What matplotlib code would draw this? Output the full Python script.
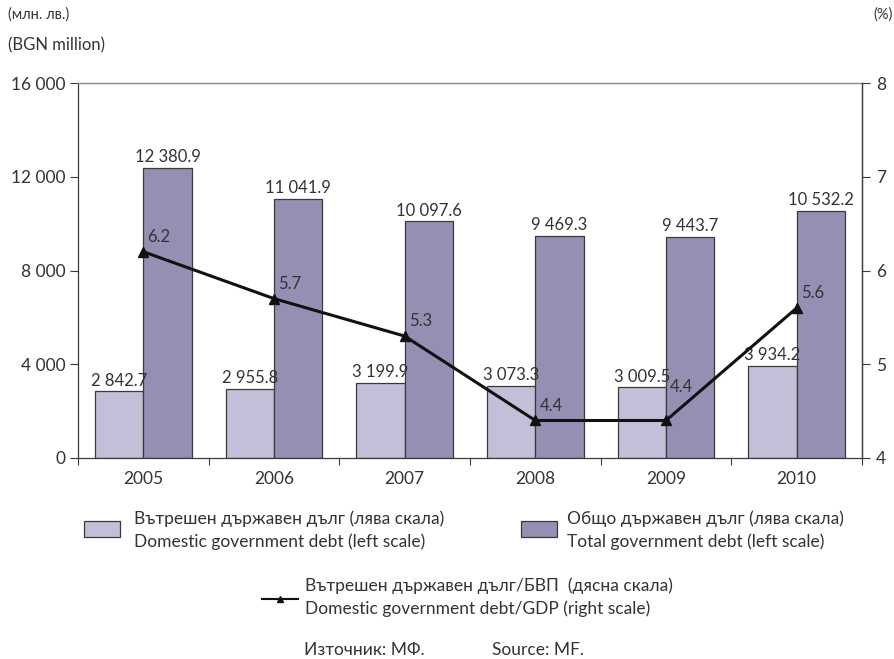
import matplotlib
matplotlib.use("Agg")
import matplotlib.pyplot as plt
from matplotlib.patches import Rectangle
from matplotlib.lines import Line2D
import numpy as np

plt.rcParams['font.family'] = ['Lato', 'DejaVu Sans']
plt.rcParams['font.weight'] = 'normal'

years = ["2005", "2006", "2007", "2008", "2009", "2010"]
domestic_debt = [2842.7, 2955.8, 3199.9, 3073.3, 3009.5, 3934.2]
total_debt = [12380.9, 11041.9, 10097.6, 9469.3, 9443.7, 10532.2]
debt_to_gdp = [6.2, 5.7, 5.3, 4.4, 4.4, 5.6]
left_ticks = [0, 4000, 8000, 12000, 16000]
left_tick_labels = ["0", "4 000", "8 000", "12 000", "16 000"]
right_ticks = [4, 5, 6, 7, 8]

light_col = "#c3bfd8"
dark_col = "#948fb3"
edge_col = "#3a3a3a"
text_col = "#333333"
fs = 12.5

def fmt(v):
    s = f"{v:,.1f}"
    return s.replace(",", " ")

fig = plt.figure(figsize=(8.94, 6.59), dpi=100)
ax = fig.add_axes([78/894, 1 - 458/659, (862-78)/894, (458-83)/659])

x = np.arange(len(years))
w = 0.37
ax.bar(x - w/2, domestic_debt, w, color=light_col, edgecolor=edge_col, linewidth=0.9, zorder=2)
ax.bar(x + w/2, total_debt, w, color=dark_col, edgecolor=edge_col, linewidth=0.9, zorder=2)

for xi, v in zip(x, domestic_debt):
    ax.text(xi - w/2, v + 120, fmt(v), ha="center", va="bottom", fontsize=12, color=text_col, zorder=5)
for xi, v in zip(x, total_debt):
    ax.text(xi + w/2, v + 120, fmt(v), ha="center", va="bottom", fontsize=12, color=text_col, zorder=5)

ax.set_xlim(-0.5, len(years) - 0.5)
ax.set_ylim(0, 16000)
ax.set_yticks(left_ticks)
ax.set_yticklabels(left_tick_labels)
ax.set_xticks(x)
ax.set_xticklabels(years)
ax.set_xticks(np.arange(len(years) + 1) - 0.5, minor=True)
ax.tick_params(axis="x", which="major", length=0, pad=9, labelsize=fs, labelcolor=text_col)
ax.tick_params(axis="x", which="minor", length=5, direction="out", width=0.8, color=edge_col)
ax.tick_params(axis="y", length=6, width=0.8, direction="out", pad=3, labelsize=fs, labelcolor=text_col, color=edge_col)
for side in ["left", "bottom"]:
    ax.spines[side].set_color(edge_col)
    ax.spines[side].set_linewidth(0.9)
ax.spines["top"].set_color("#888888")
ax.spines["top"].set_linewidth(1.0)
ax.spines["right"].set_color(edge_col)
ax.spines["right"].set_linewidth(0.9)

ax2 = ax.twinx()
ax2.set_ylim(4, 8)
ax2.set_yticks(right_ticks)
ax2.tick_params(axis="y", length=6, width=0.8, direction="out", pad=4, labelsize=fs, labelcolor=text_col, color=edge_col)
for s in ["left", "top", "bottom"]:
    ax2.spines[s].set_visible(False)
ax2.spines["right"].set_color(edge_col)
ax2.spines["right"].set_linewidth(0.9)
ax2.plot(x, debt_to_gdp, color="#111111", linewidth=2.2, marker="^", markersize=7, zorder=4)
for i, (xi, v) in enumerate(zip(x, debt_to_gdp)):
    off = (3, 18) if i == 4 else (3, 5)
    ax2.annotate(f"{v:.1f}", (xi, v), xytext=off, textcoords="offset points",
                 ha="left", va="bottom", fontsize=12, color=text_col)

fig.text(8/894, 1 - 15/659, "(млн. лв.)", fontsize=10.5, color=text_col, va="center", ha="left")
fig.text(8/894, 1 - 45/659, "(BGN million)", fontsize=12, color=text_col, va="center", ha="left")
fig.text(873/894, 1 - 15/659, "(%)", fontsize=10.5, color=text_col, va="center", ha="left")

# legend
def fy(py):
    return 1 - py/659

fig.patches.append(Rectangle((84/894, fy(537)), 36/894, 16/659, transform=fig.transFigure,
                             facecolor=light_col, edgecolor=edge_col, linewidth=0.9))
fig.text(134/894, fy(519), "Вътрешен държавен дълг (лява скала)", fontsize=fs, color=text_col, va="center")
fig.text(134/894, fy(542), "Domestic government debt (left scale)", fontsize=fs, color=text_col, va="center")

fig.patches.append(Rectangle((521/894, fy(537)), 36/894, 16/659, transform=fig.transFigure,
                             facecolor=dark_col, edgecolor=edge_col, linewidth=0.9))
fig.text(567/894, fy(519), "Общо държавен дълг (лява скала)", fontsize=fs, color=text_col, va="center")
fig.text(567/894, fy(542), "Total government debt (left scale)", fontsize=fs, color=text_col, va="center")

fig.lines.append(Line2D([262/894, 298/894], [fy(599), fy(599)], transform=fig.transFigure,
                        color="#111111", linewidth=1.5))
fig.lines.append(Line2D([280/894], [fy(599)], transform=fig.transFigure,
                        color="#111111", marker="^", markersize=4))
fig.text(305/894, fy(586), "Вътрешен държавен дълг/БВП  (дясна скала)", fontsize=fs, color=text_col, va="center")
fig.text(305/894, fy(609), "Domestic government debt/GDP (right scale)", fontsize=fs, color=text_col, va="center")

fig.text(304/894, fy(650), "Източник: МФ.", fontsize=fs, color=text_col, va="center")
fig.text(492/894, fy(650), "Source: MF.", fontsize=fs, color=text_col, va="center")

fig.savefig("out.png", dpi=100)
